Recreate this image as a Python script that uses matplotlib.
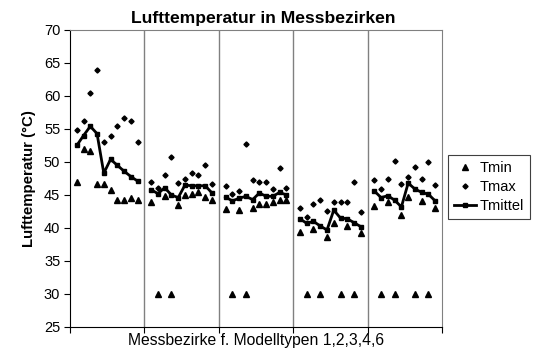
import numpy as np
from matplotlib import pyplot as plt

plt.rcParams['font.family'] = ['Liberation Sans', 'DejaVu Sans']

# one list per Messbezirk segment (10 values each)
tmin = [
  [47.0, 52.0, 51.6, 46.6, 46.6, 45.8, 44.3, 44.2, 44.5, 44.3],
  [43.9, 30.0, 44.9, 30.0, 43.5, 45.0, 45.1, 45.4, 44.7, 44.2],
  [42.9, 30.0, 42.7, 30.0, 43.1, 43.7, 43.7, 44.0, 44.2, 44.2],
  [39.4, 30.0, 39.9, 30.0, 38.6, 40.8, 30.0, 40.3, 30.0, 39.3],
  [43.3, 30.0, 43.9, 30.0, 41.9, 44.7, 30.0, 44.1, 30.0, 43.1],
]
tmax = [
  [54.8, 56.2, 60.4, 64.0, 53.1, 53.9, 55.4, 56.7, 56.2, 53.1],
  [46.9, 46.0, 48.1, 50.7, 46.8, 47.4, 48.4, 48.1, 49.6, 46.7],
  [46.3, 45.2, 45.6, 52.8, 47.3, 47.0, 47.0, 45.9, 49.1, 46.1],
  [43.1, 41.7, 43.6, 44.3, 42.6, 43.9, 44.0, 44.0, 47.0, 42.4],
  [47.3, 45.9, 47.4, 50.1, 46.6, 47.8, 49.3, 47.4, 50.0, 46.5],
]
tmittel = [
  [52.5, 54.0, 55.4, 54.3, 48.3, 50.4, 49.5, 48.6, 47.8, 47.1],
  [45.8, 45.2, 46.1, 45.0, 44.6, 46.5, 46.4, 46.4, 46.4, 45.3],
  [44.7, 44.1, 44.5, 44.8, 44.3, 45.3, 44.8, 44.8, 45.4, 45.0],
  [41.4, 40.7, 41.0, 40.3, 39.7, 42.7, 41.5, 41.4, 40.8, 40.2],
  [45.6, 44.6, 44.9, 44.2, 43.2, 46.8, 45.9, 45.4, 45.1, 44.1],
]

fig = plt.figure(figsize=(5.4, 3.54), dpi=100)
ax = fig.add_axes([0.1296, 0.0763, 0.6889, 0.8390])

for k in range(5):
  x = np.arange(10) + 11 * k + 1
  ax.plot(x, tmin[k], '^', color='black', ms=4, label='Tmin' if k == 0 else None)
  ax.plot(x, tmax[k], 'D', color='black', ms=2.6, label='Tmax' if k == 0 else None)
  ax.plot(x, tmittel[k], '-s', color='black', lw=2, ms=3.5, label='Tmittel' if k == 0 else None)

for xv in [11, 22, 33, 44]:
  ax.axvline(xv, color='#808080', lw=1, zorder=0)

ax.set_xlim(0, 55)
ax.set_ylim(25, 70)
ax.set_yticks(range(25, 71, 5))
ax.set_xticks([0, 11, 22, 33, 44, 55])
ax.set_xticklabels([])
ax.tick_params(axis='y', direction='out', length=4, labelsize=10.5, pad=3)
ax.tick_params(axis='x', direction='out', length=4)

ax.spines['top'].set_color('#808080')
ax.spines['right'].set_color('#808080')
ax.spines['left'].set_color('black')
ax.spines['bottom'].set_color('black')

ax.set_title('Lufttemperatur in Messbezirken', fontsize=12.6, fontweight='bold', pad=5, x=0.52)
ax.set_ylabel('Lufttemperatur (°C)', fontsize=10.8, fontweight='bold', labelpad=6)
ax.set_xlabel('Messbezirke f. Modelltypen 1,2,3,4,6', fontsize=11.3)
ax.xaxis.set_label_coords(0.5, -0.02)

leg = ax.legend(loc='lower left', bbox_to_anchor=(1.016, 0.364), fontsize=10.5,
                fancybox=False, framealpha=1, edgecolor='#404040',
                handlelength=1.5, handletextpad=0.25, borderpad=0.4, labelspacing=0.35,
                borderaxespad=0)
leg.get_frame().set_linewidth(0.8)

fig.savefig('out.png', dpi=100)
